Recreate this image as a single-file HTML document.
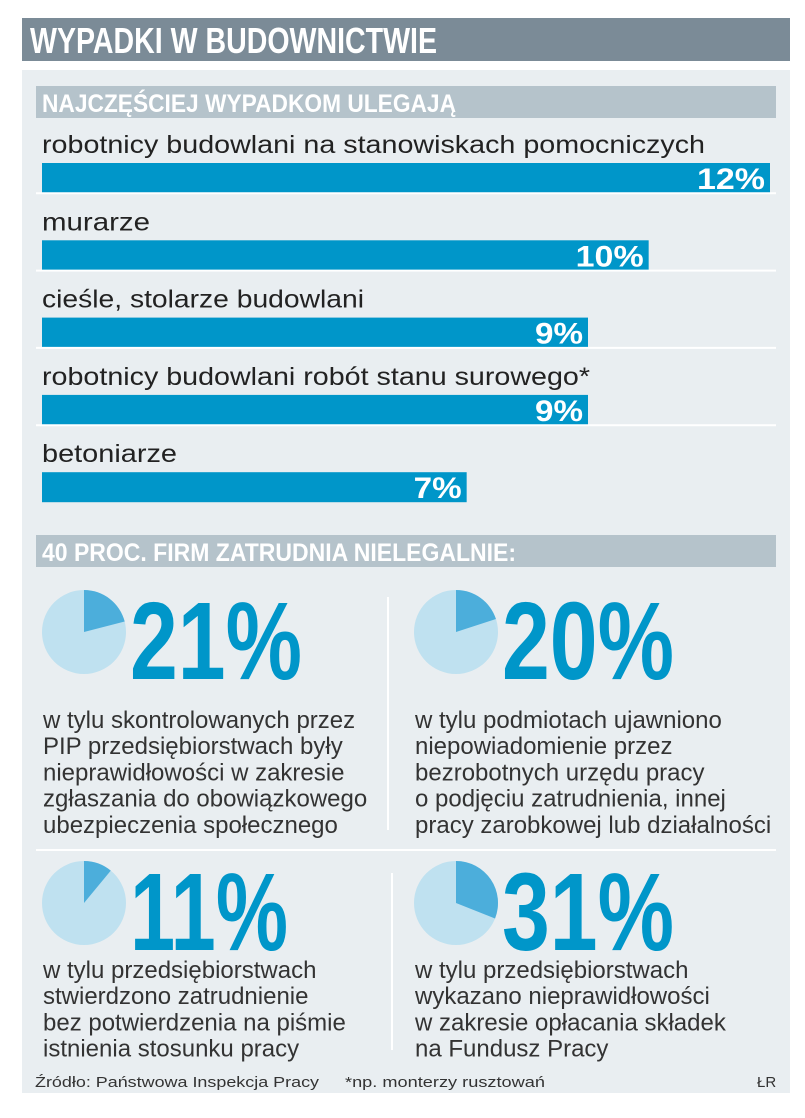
<!DOCTYPE html>
<html><head><meta charset="utf-8"><style>
html,body{margin:0;padding:0;background:#fff;}
svg{display:block;}
text{font-family:"Liberation Sans",sans-serif;}
</style></head><body>
<svg id="c" width="805" height="1118" viewBox="0 0 805 1118">
<rect x="22" y="18" width="768" height="43" fill="#7b8b97"/>
<text x="30" y="53" font-size="36" font-weight="bold" fill="#fff" textLength="407" lengthAdjust="spacingAndGlyphs">WYPADKI W BUDOWNICTWIE</text>
<rect x="22" y="70" width="768" height="1023" fill="#e9eef1"/>
<rect x="36" y="86" width="740" height="32" fill="#b5c3cb"/>
<text x="42" y="112" font-size="25" font-weight="bold" fill="#fff" textLength="414" lengthAdjust="spacingAndGlyphs">NAJCZĘŚCIEJ WYPADKOM ULEGAJĄ</text>
<g id="bars"></g>
<rect x="36" y="535" width="740" height="32" fill="#b5c3cb"/>
<text x="42" y="561" font-size="25" font-weight="bold" fill="#fff" textLength="474" lengthAdjust="spacingAndGlyphs">40 PROC. FIRM ZATRUDNIA NIELEGALNIE:</text>
<line x1="388" y1="597" x2="388" y2="830" stroke="#fff" stroke-width="2"/>
<line x1="36" y1="850" x2="776" y2="850" stroke="#fff" stroke-width="2"/>
<line x1="392" y1="873" x2="392" y2="1050" stroke="#fff" stroke-width="2"/>
<g id="pies"></g>
<text x="35" y="1087" font-size="15" fill="#333" textLength="284" lengthAdjust="spacingAndGlyphs">Źródło: Państwowa Inspekcja Pracy</text>
<text x="345" y="1087" font-size="15" fill="#333" textLength="200" lengthAdjust="spacingAndGlyphs">*np. monterzy rusztowań</text>
<text x="757" y="1087" font-size="15" fill="#333">ŁR</text>
</svg>
<script>
const categories=["robotnicy budowlani na stanowiskach pomocniczych","murarze","cieśle, stolarze budowlani","robotnicy budowlani robót stanu surowego*","betoniarze"];
const values=[12,10,9,9,7];
const labelWidths=[663,108,322,548,135];
const pieValues=[21,20,11,31];
const pieTexts=[
["w tylu skontrolowanych przez","PIP przedsiębiorstwach były","nieprawidłowości w zakresie","zgłaszania do obowiązkowego","ubezpieczenia społecznego"],
["w tylu podmiotach ujawniono","niepowiadomienie przez","bezrobotnych urzędu pracy","o podjęciu zatrudnienia, innej","pracy zarobkowej lub działalności"],
["w tylu przedsiębiorstwach","stwierdzono zatrudnienie","bez potwierdzenia na piśmie","istnienia stosunku pracy"],
["w tylu przedsiębiorstwach","wykazano nieprawidłowości","w zakresie opłacania składek","na Fundusz Pracy"]];
const NS="http://www.w3.org/2000/svg";
function mk(t,a,p){const e=document.createElementNS(NS,t);for(const k in a)e.setAttribute(k,a[k]);p.appendChild(e);return e;}
const x=v=>(770-42)/12*v;
const bars=document.getElementById('bars');
categories.forEach((c,i)=>{
  const y0=163+i*77.3;
  if(i>0){const l=mk('line',{x1:36,x2:776,y1:y0-47,y2:y0-47,stroke:'#fff','stroke-width':2},bars);
  
  }
  const t=mk('text',{x:42,y:y0-10,'font-size':25,fill:'#222',textLength:labelWidths[i],lengthAdjust:'spacingAndGlyphs'},bars);t.textContent=c;
  
  
  const r=mk('rect',{x:42,y:y0,width:x(values[i]),height:30,fill:'#0096c9'},bars);
  
  
  const v=mk('text',{x:42+x(values[i])-5,y:y0+26,'font-size':30,'font-weight':'bold',fill:'#fff','text-anchor':'end',textLength:values[i]>=10?68:48,lengthAdjust:'spacingAndGlyphs'},bars);v.textContent=values[i]+'%';
  
  
});
const pies=document.getElementById('pies');
const pos=[[84,632,130,720],[456,632,502,720],[84,903,130,970],[456,903,502,970]];
pieValues.forEach((p,i)=>{
  const [cx,cy,nx,ty]=pos[i];const r=42;
  const c=mk('circle',{cx,cy,r,fill:'#bfe1f0'},pies);
  
  
  const a=p/100*2*Math.PI;const ex=cx+r*Math.sin(a),ey=cy-r*Math.cos(a);
  const s=mk('path',{d:`M${cx},${cy}L${cx},${cy-r}A${r},${r} 0 ${p>50?1:0} 1 ${ex},${ey}Z`,fill:'#4caedb'},pies);
  
  
  const n=mk('text',{x:nx,y:cy+47,'font-size':110,'font-weight':'bold',fill:'#0096c9',textLength:i==2?158:172,lengthAdjust:'spacingAndGlyphs'},pies);n.textContent=p+'%';
  
  
  pieTexts[i].forEach((ln,j)=>{
    const t=mk('text',{x:cx-41,y:ty+8+j*26.2,'font-size':24,fill:'#333'},pies);t.textContent=ln;
    
    
  });
});
</script>
</body></html>
